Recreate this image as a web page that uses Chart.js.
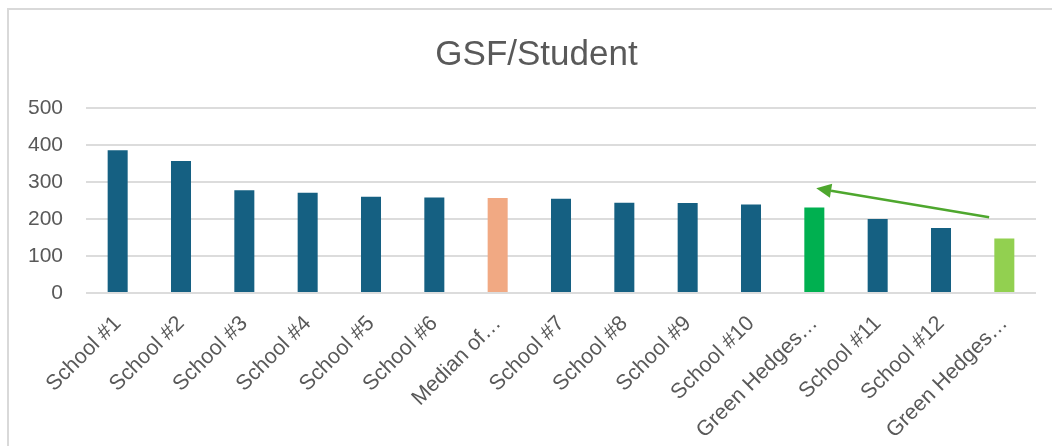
<!DOCTYPE html>
<html>
<head>
<meta charset="utf-8">
<script src="https://cdn.jsdelivr.net/npm/chart.js@4"></script>
<style>
  body { margin: 0; background: #fff; overflow: hidden; }
  #wrap {
    position: absolute; left: 7px; top: 8px;
    width: 1045px; height: 438px; box-sizing: border-box;
    border-top: 2px solid #d9d9d9; border-left: 2px solid #d9d9d9;
  }
  canvas { display: block; }
</style>
</head>
<body>
<div id="wrap"><canvas id="gsfChart" width="1043" height="436"></canvas></div>
<script>
// categories and values
let schools = ["School #1", "School #2", "School #3", "School #4", "School #5", "School #6",
  "Median of…", "School #7", "School #8", "School #9", "School #10", "Green Hedges…",
  "School #11", "School #12", "Green Hedges…"];
let gsfPerStudent = [386, 357, 278, 271, 260, 258, 257, 255, 244, 243, 239, 231, 200, 176, 147];
let yTicks = [0, 100, 200, 300, 400, 500];

// arrow from the last bar up to Green Hedges (category index, value)
let arrowFrom = [13.76, 205];
let arrowTo = [11.03, 283];

// bar colours, one per category
let barColors = schools.map(function (s, i) {
  if (i === 6) return '#F1A983';
  if (i === 11) return '#00B050';
  if (i === 14) return '#92D050';
  return '#156082';
});

// draws the green arrow on top of the bars
const arrowPlugin = {
  id: 'arrow',
  afterDatasetsDraw(chart) {
    let ctx = chart.ctx;
    let xs = chart.scales.x, ys = chart.scales.y;
    let x1 = xs.getPixelForValue(arrowFrom[0]), y1 = ys.getPixelForValue(arrowFrom[1]);
    let x2 = xs.getPixelForValue(arrowTo[0]), y2 = ys.getPixelForValue(arrowTo[1]);
    let ang = Math.atan2(y2 - y1, x2 - x1);
    let headLen = 15, headW = 7;
    let bx = x2 - headLen * Math.cos(ang), by = y2 - headLen * Math.sin(ang);
    ctx.save();
    ctx.strokeStyle = '#4EA72E';
    ctx.fillStyle = '#4EA72E';
    ctx.lineWidth = 2.5;
    ctx.beginPath();
    ctx.moveTo(x1, y1);
    ctx.lineTo(bx, by);
    ctx.stroke();
    ctx.beginPath();
    ctx.moveTo(x2, y2);
    ctx.lineTo(bx + headW * Math.sin(ang), by - headW * Math.cos(ang));
    ctx.lineTo(bx - headW * Math.sin(ang), by + headW * Math.cos(ang));
    ctx.closePath();
    ctx.fill();
    ctx.restore();
  }
};

// nudge the title block so it is centred like the reference
const titleShift = {
  id: 'titleShift',
  afterLayout(chart) {
    if (chart.titleBlock) chart.titleBlock.left += 28;
  }
};

Chart.defaults.font.family = "'Liberation Sans', Arial, sans-serif";
Chart.defaults.color = '#595959';

new Chart(document.getElementById('gsfChart').getContext('2d'), {
  type: 'bar',
  data: {
    labels: schools,
    datasets: [{
      label: 'GSF/Student',
      data: gsfPerStudent,
      backgroundColor: barColors,
      barPercentage: 0.316,
      categoryPercentage: 1
    }]
  },
  options: {
    responsive: false,
    animation: false,
    layout: { padding: { left: 0, right: 16, top: 0, bottom: 0 } },
    plugins: {
      legend: { display: false },
      tooltip: { enabled: false },
      title: {
        display: true,
        text: 'GSF/Student',
        color: '#595959',
        font: { size: 35, weight: 'normal' },
        padding: { top: 24, bottom: 32 }
      }
    },
    scales: {
      x: {
        grid: { display: false },
        border: { display: false },
        ticks: {
          autoSkip: false,
          maxRotation: 45,
          minRotation: 45,
          padding: 10,
          color: '#595959',
          font: { size: 21.5 }
        },
        afterFit(scale) { scale.height = 153; }
      },
      y: {
        min: 0,
        max: 500,
        afterBuildTicks(scale) { scale.ticks = yTicks.map(v => ({ value: v })); },
        grid: { color: '#dcdcdc', lineWidth: 2, drawTicks: false },
        border: { display: false },
        ticks: {
          padding: 23,
          color: '#595959',
          font: { size: 21 }
        },
        afterFit(scale) { scale.width = 77; }
      }
    }
  },
  plugins: [arrowPlugin, titleShift]
});
</script>
</body>
</html>
